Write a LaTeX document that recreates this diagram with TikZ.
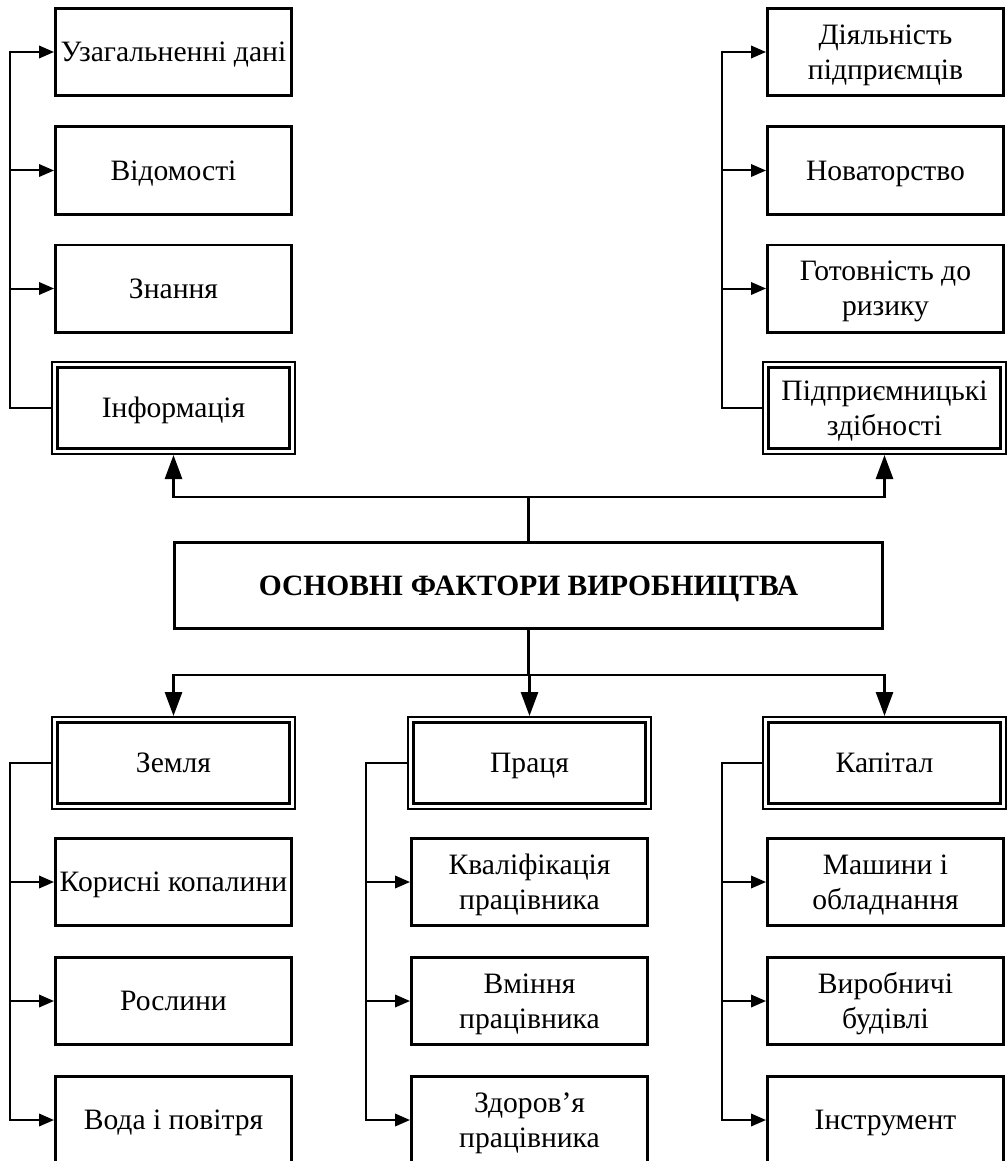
\documentclass[tikz,border=0pt]{standalone}
\usepackage{fontspec}
\setmainfont{Liberation Serif}
\usetikzlibrary{arrows.meta}
\begin{document}
\begin{tikzpicture}[x=1pt,y=-1pt,
  box/.style={draw, line width=2.8pt, minimum width=236.2pt, minimum height=87.2pt,
    align=center, inner sep=0pt, text height=19.6pt, text depth=0pt,
    font=\fontsize{29.6}{35}\selectfont},
  two/.style={text height=54.6pt, text depth=0pt},
  dbox/.style={box, line width=3pt, minimum width=232pt, minimum height=81pt, outer sep=6.5pt},
  outerframe/.style={draw, line width=2pt},
  mainbox/.style={draw, line width=2.7pt, minimum width=708.4pt, minimum height=86.4pt,
    inner sep=0pt, text height=19.8pt, text depth=0pt,
    font=\fontsize{29.5}{35}\selectfont\bfseries},
  sarr/.style={-{Triangle[length=15pt,width=12.5pt]}, line width=2pt},
  bline/.style={line width=2.8pt},
  barr/.style={-{Triangle[length=24pt,width=17pt]}, line width=2.8pt},
]
\useasboundingbox (0,0) rectangle (1007,1161);
\clip (0,0) rectangle (1007,1161);
% top left column
\node[box] (tl1) at (173.5,52) {Узагальненні дані};
\node[box] (tl2) at (173.5,170.5) {Відомості};
\node[box] (tl3) at (173.5,288.5) {Знання};
\node[dbox] (info) at (173.5,408) {Інформація};
% top right column
\node[box,two] (tr1) at (885.5,52) {Діяльність\\підприємців};
\node[box] (tr2) at (885.5,170.5) {Новаторство};
\node[box,two] (tr3) at (885.5,288.5) {Готовність до\\ризику};
\node[dbox,two] (ent) at (884.5,408) {Підприємницькі\\здібності};
% main
\node[mainbox] (main) at (528.5,585.5) {ОСНОВНІ ФАКТОРИ ВИРОБНИЦТВА};
% bottom columns
\node[dbox] (zem) at (173.5,763) {Земля};
\node[box] (z1) at (173.5,882) {Корисні копалини};
\node[box] (z2) at (173.5,1001) {Рослини};
\node[box] (z3) at (173.5,1120) {Вода і повітря};
\node[dbox] (pra) at (529.5,763) {Праця};
\node[box,two] (p1) at (529.5,882) {Кваліфікація\\працівника};
\node[box,two] (p2) at (529.5,1001) {Вміння\\працівника};
\node[box,two] (p3) at (529.5,1120) {Здоров’я\\працівника};
\node[dbox] (kap) at (884.5,763) {Капітал};
\node[box,two] (k1) at (885.5,882) {Машини і\\обладнання};
\node[box,two] (k2) at (885.5,1001) {Виробничі\\будівлі};
\node[box] (k3) at (885.5,1120) {Інструмент};
% outer frames of the double boxes
\foreach \n in {info,ent,zem,pra,kap}
  \draw[outerframe] ([shift={(1,1)}]\n.north west) rectangle ([shift={(-1,-1)}]\n.south east);
% spines
\coordinate (sL) at (10,0);
\coordinate (sM) at (366,0);
\coordinate (sR) at (722,0);
% top left
\draw[sarr] (info.west) -| (sL |- tl1.west) -- (tl1.west);
\draw[sarr] (sL |- tl2.west) -- (tl2.west);
\draw[sarr] (sL |- tl3.west) -- (tl3.west);
% top right
\draw[sarr] (ent.west) -| (sR |- tr1.west) -- (tr1.west);
\draw[sarr] (sR |- tr2.west) -- (tr2.west);
\draw[sarr] (sR |- tr3.west) -- (tr3.west);
% bottom left
\draw[sarr] (zem.west) -| (sL |- z3.west) -- (z3.west);
\draw[sarr] (sL |- z1.west) -- (z1.west);
\draw[sarr] (sL |- z2.west) -- (z2.west);
% bottom middle
\draw[sarr] (pra.west) -| (sM |- p3.west) -- (p3.west);
\draw[sarr] (sM |- p1.west) -- (p1.west);
\draw[sarr] (sM |- p2.west) -- (p2.west);
% bottom right
\draw[sarr] (kap.west) -| (sR |- k3.west) -- (k3.west);
\draw[sarr] (sR |- k1.west) -- (k1.west);
\draw[sarr] (sR |- k2.west) -- (k2.west);
% central connectors
\draw[bline] (main.north) -- (528.5,497) coordinate (tj);
\draw[barr] (tj) -| (info.south);
\draw[barr] (tj) -| (ent.south);
\draw[bline] (main.south) -- (528.5,675) coordinate (bj);
\draw[barr] (bj) -| (zem.north);
\draw[barr] (bj) -| (pra.north);
\draw[barr] (bj) -| (kap.north);
\end{tikzpicture}
\end{document}
